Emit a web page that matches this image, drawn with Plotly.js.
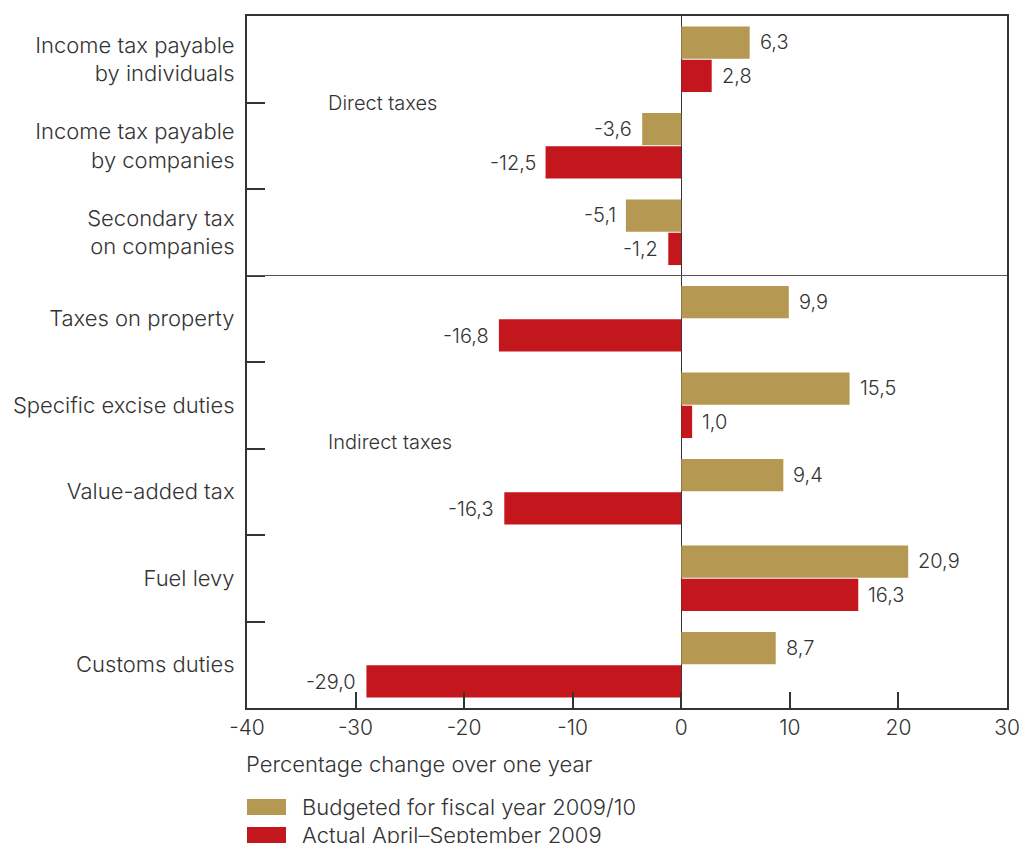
<!DOCTYPE html>
<html>
<head>
<meta charset="utf-8">
<script src="https://cdn.plot.ly/plotly-3.0.1.min.js"></script>
<style>html,body{margin:0;padding:0;background:#fff;}#chart{width:1021px;height:843px;}</style>
</head>
<body>
<div id="chart"></div>
<script>
// ---- data ----
const categories = [
  "Income tax payable<br>by individuals",
  "Income tax payable<br>by companies",
  "Secondary tax<br>on companies",
  "Taxes on property",
  "Specific excise duties",
  "Value-added tax",
  "Fuel levy",
  "Customs duties"
];
const budgeted = [6.3, -3.6, -5.1, 9.9, 15.5, 9.4, 20.9, 8.7];
const actual   = [2.8, -12.5, -1.2, -16.8, 1.0, -16.3, 16.3, -29.0];
const seriesNames = ["Budgeted for fiscal year 2009/10", "Actual April\u2013September 2009"];
const xTickVals = [-40, -30, -20, -10, 0, 10, 20, 30];
const groupLabels = ["Direct taxes", "Indirect taxes"];
const xAxisLabel = "Percentage change over one year";

// ---- style ----
const GOLD = "#b59852", RED = "#c4161d", INK = "#333333";
const FONT = "Inter, Liberation Sans, Arial, sans-serif";
const WT = 300;
const W = 1021, H = 843;
const M = {l: 247, r: 14, t: 16, b: 135};
const plotH = H - M.t - M.b;
const pyToPaper = py => (H - M.b - py) / plotH;
const fmt = v => v.toFixed(1).replace('.', ',');
const f = size => ({family: FONT, size: size, color: INK, weight: WT});

const traces = [
  {type: 'bar', orientation: 'h', name: seriesNames[0], y: categories, x: budgeted,
   marker: {color: GOLD}, hoverinfo: 'x'},
  {type: 'bar', orientation: 'h', name: seriesNames[1], y: categories, x: actual,
   marker: {color: RED}, hoverinfo: 'x'}
];

const annotations = [];
[budgeted, actual].forEach((arr, s) => {
  arr.forEach((v, i) => {
    annotations.push({
      x: v, y: categories[i], xref: 'x', yref: 'y',
      text: fmt(v), showarrow: false,
      xanchor: v >= 0 ? 'left' : 'right',
      xshift: v >= 0 ? 8 : -8,
      yshift: s === 0 ? 17 : -17,
      font: f(20)
    });
  });
});
// group labels
annotations.push({x: -32.5, y: 0.5, xref: 'x', yref: 'y', text: groupLabels[0], showarrow: false,
  xanchor: 'left', yanchor: 'middle', xshift: -2, font: f(20)});
annotations.push({x: -32.5, y: 4.42, xref: 'x', yref: 'y', text: groupLabels[1], showarrow: false,
  xanchor: 'left', yanchor: 'middle', xshift: -2, font: f(20)});
// axis title
annotations.push({x: 0, y: pyToPaper(764), xref: 'paper', yref: 'paper', text: xAxisLabel, showarrow: false,
  xanchor: 'left', yanchor: 'middle', xshift: -3, font: f(22)});
// legend
const legendRows = [{c: GOLD, y: 807}, {c: RED, y: 835}];
const shapes = [
  {type: 'line', xref: 'paper', x0: 0, x1: 1, yref: 'y', y0: 2.5, y1: 2.5,
   line: {color: '#555', width: 1}}
];
legendRows.forEach((r, k) => {
  shapes.push({type: 'rect', xref: 'paper', yref: 'paper', x0: 0, x1: 39 / (W - M.l - M.r),
    y0: pyToPaper(r.y + 8), y1: pyToPaper(r.y - 8), fillcolor: r.c, line: {width: 0}});
  annotations.push({x: 53 / (W - M.l - M.r), y: pyToPaper(r.y), xref: 'paper', yref: 'paper',
    text: seriesNames[k], showarrow: false, xanchor: 'left', yanchor: 'middle',
    font: f(22)});
});

const layout = {
  width: W, height: H,
  margin: M,
  paper_bgcolor: '#fff', plot_bgcolor: '#fff',
  barmode: 'group', bargap: 0.23, bargroupgap: 0.03,
  showlegend: false,
  font: {family: FONT, color: INK, weight: WT},
  xaxis: {
    range: [-40, 30], tickvals: xTickVals, ticktext: xTickVals.map(String),
    ticks: 'inside', ticklen: 16, tickwidth: 2, tickcolor: INK,
    showline: true, linewidth: 2, linecolor: INK, mirror: true,
    showgrid: false, zeroline: true, zerolinecolor: INK, zerolinewidth: 1,
    tickfont: f(21), fixedrange: true
  },
  yaxis: {
    type: 'category', autorange: 'reversed', tickson: 'boundaries',
    ticks: 'inside', ticklen: 18, tickwidth: 2, tickcolor: INK,
    showline: true, linewidth: 2, linecolor: INK, mirror: true,
    showgrid: false, ticklabelstandoff: 6,
    tickfont: f(22), fixedrange: true
  },
  annotations: annotations,
  shapes: shapes
};

Plotly.newPlot('chart', traces, layout, {displayModeBar: false, staticPlot: true});
</script>
</body>
</html>
